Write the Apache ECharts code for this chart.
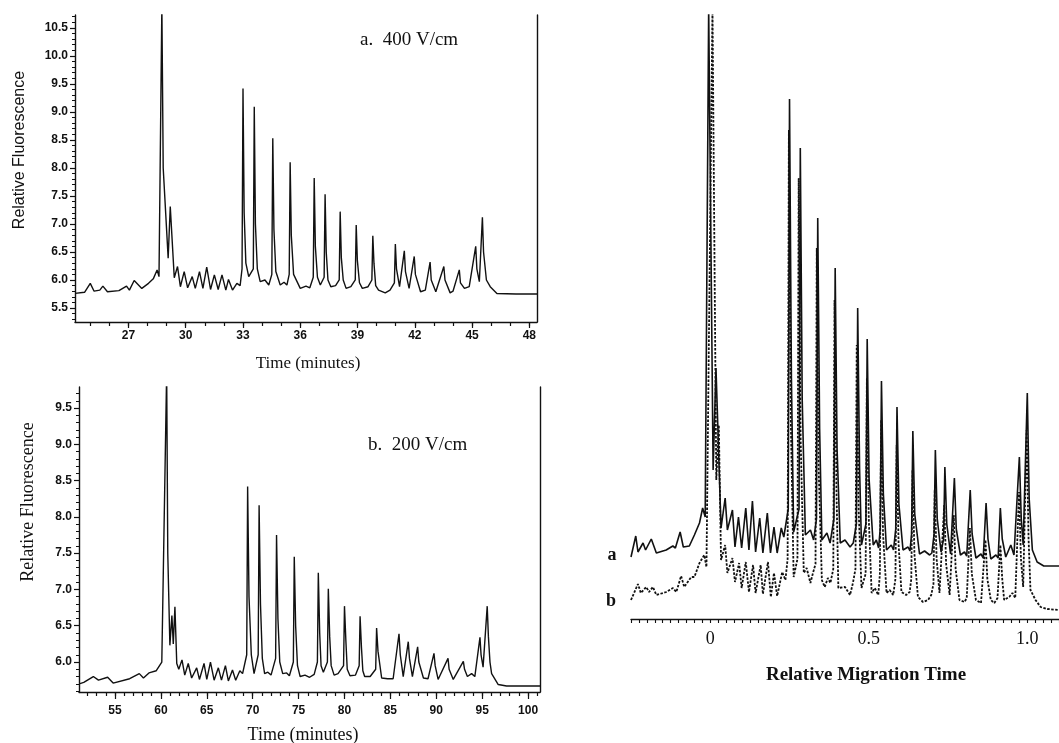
<!DOCTYPE html>
<html>
<head>
<meta charset="utf-8">
<script src="https://cdn.jsdelivr.net/npm/echarts@6.0.0/dist/echarts.min.js"></script>
<style>
  html, body { margin: 0; padding: 0; background: #fff; }
  #chart { width: 1059px; height: 743px; }
</style>
</head>
<body>
<div id="chart"></div>
<script>
// panel a: 400 V/cm, [time (min), relative fluorescence]
const panelA400 = [
  [24.2, 5.76], [24.7, 5.78], [25.0, 5.94], [25.2, 5.8], [25.5, 5.82], [25.66, 5.89], [25.9, 5.79],
  [26.5, 5.81], [26.9, 5.89], [27.05, 5.82], [27.3, 5.99], [27.7, 5.85], [28.05, 5.94], [28.3, 6.02],
  [28.5, 6.18], [28.6, 6.06], [28.75, 10.9], [28.82, 8.0], [29.08, 6.39], [29.19, 7.31], [29.4, 6.04],
  [29.57, 6.24], [29.72, 5.88], [29.92, 6.15], [30.1, 5.86], [30.34, 6.06], [30.5, 5.85], [30.72, 6.15],
  [30.9, 5.85], [31.1, 6.23], [31.3, 5.83], [31.5, 6.09], [31.7, 5.83], [31.9, 6.09], [32.1, 5.82],
  [32.24, 6.01], [32.45, 5.82], [32.68, 5.94], [32.85, 5.9], [32.95, 6.2], [33.0, 9.42], [33.06, 7.2],
  [33.15, 6.3], [33.3, 6.06], [33.54, 6.2], [33.59, 9.09], [33.65, 7.0], [33.75, 6.2], [33.9, 5.97],
  [34.15, 6.0], [34.35, 5.91], [34.51, 6.1], [34.56, 8.53], [34.62, 6.9], [34.72, 6.15], [34.95, 5.91],
  [35.15, 5.96], [35.3, 5.91], [35.42, 6.1], [35.47, 8.1], [35.53, 6.8], [35.65, 6.1], [36.0, 5.85],
  [36.3, 5.89], [36.5, 5.86], [36.68, 6.05], [36.73, 7.82], [36.79, 6.6], [36.9, 6.05], [37.05, 5.91],
  [37.25, 6.05], [37.3, 7.53], [37.36, 6.5], [37.45, 6.0], [37.6, 5.88], [37.85, 5.9], [38.04, 6.0],
  [38.09, 7.22], [38.15, 6.4], [38.25, 6.0], [38.4, 5.85], [38.65, 5.88], [38.88, 6.0], [38.93, 6.98],
  [38.99, 6.35], [39.1, 5.95], [39.25, 5.85], [39.55, 5.88], [39.75, 6.0], [39.8, 6.79], [39.86, 6.3],
  [39.95, 5.9], [40.1, 5.82], [40.45, 5.77], [40.7, 5.82], [40.93, 5.95], [40.98, 6.64], [41.04, 6.2],
  [41.2, 5.88], [41.45, 6.52], [41.51, 6.15], [41.7, 5.85], [41.97, 6.42], [42.03, 6.1], [42.3, 5.79],
  [42.55, 5.82], [42.8, 6.32], [42.86, 6.0], [43.1, 5.79], [43.52, 6.24], [43.58, 6.0], [43.85, 5.77],
  [44.0, 5.8], [44.33, 6.18], [44.39, 5.95], [44.6, 5.85], [44.85, 5.88], [45.19, 6.6], [45.25, 6.2],
  [45.38, 5.97], [45.54, 7.12], [45.6, 6.5], [45.75, 6.0], [45.95, 5.88], [46.3, 5.76], [47.3, 5.75],
  [48.4, 5.75]
];

// panel b: 200 V/cm
const panelB200 = [
  [51.1, 5.70], [51.6, 5.72], [52.64, 5.80], [53.2, 5.75], [54.2, 5.79], [54.8, 5.71], [56.6, 5.77],
  [57.65, 5.84], [58.1, 5.78], [58.7, 5.85], [59.5, 5.88], [60.1, 6.0], [60.3, 5.99], [60.63, 10.0],
  [60.75, 7.5], [60.98, 6.23], [61.2, 6.64], [61.35, 6.25], [61.53, 6.76], [61.73, 5.98], [61.95, 5.9],
  [62.3, 6.03], [62.6, 5.82], [62.98, 5.98], [63.35, 5.78], [63.9, 5.92], [64.2, 5.76], [64.7, 5.98],
  [65.0, 5.76], [65.4, 6.0], [65.8, 5.75], [66.26, 5.92], [66.6, 5.75], [67.03, 5.95], [67.35, 5.74],
  [67.8, 5.89], [68.15, 5.75], [68.6, 5.88], [68.9, 5.84], [69.35, 6.1], [69.45, 8.42], [69.6, 6.9],
  [69.85, 6.1], [70.15, 5.84], [70.6, 6.1], [70.7, 8.16], [70.85, 6.8], [71.05, 6.05], [71.3, 5.84],
  [71.65, 5.86], [72.0, 5.82], [72.5, 6.05], [72.6, 7.75], [72.75, 6.6], [72.95, 6.0], [73.27, 5.84],
  [73.7, 5.85], [74.0, 5.81], [74.43, 6.0], [74.53, 7.45], [74.68, 6.5], [74.88, 5.95], [75.17, 5.80],
  [75.7, 5.82], [76.2, 5.79], [76.7, 5.83], [77.05, 6.0], [77.15, 7.23], [77.3, 6.4], [77.45, 5.95],
  [77.7, 5.86], [78.14, 6.0], [78.24, 7.01], [78.39, 6.35], [78.55, 5.95], [78.87, 5.82], [79.3, 5.84],
  [79.9, 5.95], [80.0, 6.77], [80.15, 6.3], [80.3, 5.9], [80.6, 5.81], [81.2, 5.82], [81.6, 5.95],
  [81.7, 6.63], [81.85, 6.2], [82.0, 5.88], [82.2, 5.80], [82.8, 5.80], [83.4, 5.9], [83.5, 6.47],
  [83.65, 6.15], [84.05, 5.78], [84.7, 5.77], [85.3, 5.77], [85.94, 6.39], [86.08, 6.1], [86.4, 5.80],
  [86.95, 6.28], [87.08, 6.05], [87.4, 5.80], [87.97, 6.21], [88.1, 6.0], [88.6, 5.78], [89.1, 5.77],
  [89.75, 6.12], [89.88, 5.95], [90.2, 5.76], [91.28, 6.05], [91.4, 5.9], [91.85, 5.76], [92.95, 6.01],
  [93.08, 5.9], [93.39, 5.80], [93.85, 5.84], [94.2, 5.80], [94.76, 6.34], [94.88, 6.1], [95.1, 5.93],
  [95.55, 6.77], [95.68, 6.35], [95.85, 6.0], [96.03, 5.84], [96.75, 5.69], [97.66, 5.67], [100.2, 5.67],
  [101.3, 5.67]
];

// panel c: relative migration time, trace a (solid, offset up)
const overlayA = [
  [-0.25, 0.62], [-0.235, 0.83], [-0.228, 0.67], [-0.212, 0.76], [-0.204, 0.69], [-0.186, 0.80],
  [-0.17, 0.66], [-0.139, 0.69], [-0.118, 0.73], [-0.11, 0.71], [-0.095, 0.87], [-0.085, 0.72],
  [-0.066, 0.73], [-0.05, 0.84], [-0.034, 0.96], [-0.024, 1.11], [-0.016, 1.02], [-0.005, 6.1],
  [0.009, 1.49], [0.018, 2.51], [0.034, 0.91], [0.047, 1.21], [0.054, 0.89], [0.07, 1.09], [0.078, 0.72],
  [0.089, 1.02], [0.099, 0.71], [0.112, 1.11], [0.122, 0.69], [0.133, 1.18], [0.143, 0.67], [0.156, 1.01],
  [0.166, 0.66], [0.18, 1.06], [0.19, 0.66], [0.201, 0.92], [0.211, 0.66], [0.224, 0.91], [0.232, 0.82],
  [0.246, 1.1], [0.25, 5.20], [0.256, 2.4], [0.263, 0.87], [0.28, 1.1], [0.284, 4.71], [0.29, 2.2],
  [0.3, 0.84], [0.316, 0.89], [0.326, 0.79], [0.335, 1.0], [0.339, 4.01], [0.345, 1.9], [0.352, 0.79],
  [0.368, 0.86], [0.378, 0.76], [0.39, 1.0], [0.394, 3.51], [0.4, 1.7], [0.41, 0.76], [0.425, 0.79],
  [0.441, 0.72], [0.451, 0.76], [0.461, 0.95], [0.465, 3.11], [0.471, 1.5], [0.477, 0.74], [0.491, 0.95],
  [0.495, 2.80], [0.501, 1.4], [0.514, 0.74], [0.524, 0.79], [0.531, 0.71], [0.536, 0.9], [0.54, 2.38],
  [0.546, 1.25], [0.556, 0.69], [0.571, 0.74], [0.578, 0.69], [0.585, 0.9], [0.589, 2.12], [0.595, 1.15],
  [0.608, 0.69], [0.624, 0.72], [0.63, 0.68], [0.635, 0.85], [0.639, 1.88], [0.645, 1.05], [0.66, 0.65],
  [0.676, 0.68], [0.692, 0.64], [0.699, 0.66], [0.706, 0.85], [0.71, 1.69], [0.716, 1.0], [0.728, 0.67],
  [0.736, 0.8], [0.74, 1.52], [0.746, 0.95], [0.758, 0.65], [0.77, 1.41], [0.776, 0.9], [0.789, 0.64],
  [0.802, 0.67], [0.809, 0.63], [0.82, 1.29], [0.826, 0.85], [0.838, 0.61], [0.854, 0.65], [0.861, 0.61],
  [0.87, 1.16], [0.876, 0.8], [0.885, 0.60], [0.901, 0.64], [0.908, 0.61], [0.915, 1.11], [0.921, 0.8],
  [0.932, 0.62], [0.948, 0.74], [0.958, 0.64], [0.975, 1.62], [0.981, 1.0], [0.987, 0.74], [1.0, 2.26],
  [1.006, 1.2], [1.016, 0.69], [1.031, 0.57], [1.052, 0.53], [1.1, 0.53]
];

// panel c: trace b (dotted, offset down)
const overlayB = [
  [-0.25, 0.19], [-0.228, 0.35], [-0.219, 0.26], [-0.202, 0.32], [-0.193, 0.27], [-0.181, 0.32],
  [-0.17, 0.24], [-0.139, 0.27], [-0.118, 0.31], [-0.107, 0.27], [-0.092, 0.43], [-0.082, 0.32],
  [-0.06, 0.42], [-0.05, 0.42], [-0.034, 0.56], [-0.019, 0.64], [-0.012, 0.52], [0.007, 6.1],
  [0.019, 1.39], [0.027, 1.94], [0.034, 0.59], [0.047, 0.74], [0.054, 0.46], [0.07, 0.61], [0.078, 0.37],
  [0.091, 0.56], [0.099, 0.31], [0.112, 0.57], [0.122, 0.27], [0.135, 0.54], [0.143, 0.26], [0.159, 0.54],
  [0.166, 0.25], [0.182, 0.57], [0.191, 0.22], [0.201, 0.46], [0.211, 0.23], [0.227, 0.47], [0.237, 0.39],
  [0.244, 0.6], [0.248, 4.89], [0.254, 2.0], [0.263, 0.42], [0.275, 0.6], [0.279, 4.41], [0.285, 1.8],
  [0.295, 0.46], [0.304, 0.51], [0.316, 0.36], [0.324, 0.46], [0.332, 0.55], [0.336, 3.71], [0.342, 1.5],
  [0.352, 0.39], [0.361, 0.32], [0.371, 0.41], [0.379, 0.36], [0.388, 0.5], [0.392, 3.19], [0.398, 1.3],
  [0.404, 0.31], [0.425, 0.32], [0.441, 0.24], [0.45, 0.36], [0.458, 0.5], [0.462, 2.74], [0.468, 1.1],
  [0.477, 0.31], [0.49, 0.45], [0.494, 2.41], [0.5, 1.0], [0.509, 0.26], [0.519, 0.31], [0.53, 0.24],
  [0.535, 0.45], [0.539, 1.99], [0.545, 0.85], [0.556, 0.26], [0.566, 0.29], [0.577, 0.24], [0.584, 0.4],
  [0.588, 1.74], [0.594, 0.75], [0.603, 0.27], [0.618, 0.24], [0.629, 0.27], [0.634, 0.4], [0.638, 1.49],
  [0.644, 0.65], [0.655, 0.22], [0.671, 0.17], [0.687, 0.19], [0.697, 0.24], [0.704, 0.35], [0.708, 1.29],
  [0.714, 0.6], [0.723, 0.26], [0.738, 1.14], [0.744, 0.55], [0.755, 0.24], [0.768, 1.04], [0.774, 0.5],
  [0.786, 0.19], [0.802, 0.17], [0.809, 0.21], [0.819, 0.91], [0.825, 0.45], [0.838, 0.19], [0.854, 0.16],
  [0.868, 0.79], [0.874, 0.4], [0.885, 0.19], [0.896, 0.16], [0.906, 0.21], [0.915, 0.74], [0.921, 0.4],
  [0.927, 0.19], [0.943, 0.22], [0.953, 0.26], [0.962, 0.21], [0.974, 1.27], [0.98, 0.6], [0.987, 0.32],
  [0.998, 1.89], [1.004, 0.8], [1.01, 0.29], [1.026, 0.19], [1.042, 0.12], [1.063, 0.10], [1.1, 0.09]
];

// tick labels
const panelAYLabels = [5.5, 6.0, 6.5, 7.0, 7.5, 8.0, 8.5, 9.0, 9.5, 10.0, 10.5];
const panelAXLabels = [27, 30, 33, 36, 39, 42, 45, 48];
const panelBYLabels = [6.0, 6.5, 7.0, 7.5, 8.0, 8.5, 9.0, 9.5];
const panelBXLabels = [55, 60, 65, 70, 75, 80, 85, 90, 95, 100];
const panelCXLabels = [0, 0.5, 1.0];

function steps(from, to, step) {
  const out = [];
  for (let v = from; v <= to + 1e-9; v += step) out.push(Math.round(v * 1000) / 1000);
  return out;
}

const sans = '"Liberation Sans", Arial, sans-serif';
const serif = '"Liberation Serif", "Times New Roman", serif';
const black = '#111';

const tickLabel = { color: black, fontFamily: sans, fontWeight: 'bold', fontSize: 12 };

const chart = echarts.init(document.getElementById('chart'), null, { renderer: 'canvas' });

const option = {
  animation: false,
  backgroundColor: '#fff',
  grid: [
    { left: 75, top: 15, width: 462, height: 307 },
    { left: 79, top: 387, width: 461, height: 305 },
    { left: 631, top: 15, width: 431, height: 604 }
  ],
  xAxis: [
    { // 0 panel a main
      gridIndex: 0, type: 'value', position: 'bottom', min: 24.2, max: 48.4,
      axisLine: { lineStyle: { color: black, width: 1.4 } },
      axisTick: { customValues: panelAXLabels, length: 6, lineStyle: { color: black, width: 1.2 } },
      axisLabel: { customValues: panelAXLabels, margin: 8, ...tickLabel, formatter: v => String(v) },
      splitLine: { show: false }
    },
    { // 1 panel a minor ticks
      gridIndex: 0, type: 'value', position: 'bottom', min: 24.2, max: 48.4,
      axisLine: { show: false },
      axisTick: { customValues: steps(25, 48, 1), length: 4, lineStyle: { color: black, width: 1.2 } },
      axisLabel: { show: false }, splitLine: { show: false }
    },
    { // 2 panel b main
      gridIndex: 1, type: 'value', position: 'bottom', min: 51.08, max: 101.3,
      axisLine: { lineStyle: { color: black, width: 1.4 } },
      axisTick: { customValues: panelBXLabels, length: 7, lineStyle: { color: black, width: 1.2 } },
      axisLabel: { customValues: panelBXLabels, margin: 13, ...tickLabel, formatter: v => String(v) },
      splitLine: { show: false }
    },
    { // 3 panel b minor ticks
      gridIndex: 1, type: 'value', position: 'bottom', min: 51.08, max: 101.3,
      axisLine: { show: false },
      axisTick: { customValues: steps(52, 101, 1), length: 4, lineStyle: { color: black, width: 1.2 } },
      axisLabel: { show: false }, splitLine: { show: false }
    },
    { // 4 panel c
      gridIndex: 2, type: 'value', position: 'bottom', min: -0.25, max: 1.1, interval: 0.025,
      axisLine: { lineStyle: { color: black, width: 1.4 } },
      axisTick: { length: 4, lineStyle: { color: black, width: 1.1 } },
      axisLabel: {
        customValues: panelCXLabels, margin: 11, color: black, fontFamily: serif, fontSize: 18,
        formatter: v => (Math.abs(v) < 1e-6 ? '0' : v.toFixed(1))
      },
      splitLine: { show: false }
    }
  ],
  yAxis: [
    { // 0 panel a main
      gridIndex: 0, type: 'value', position: 'left', min: 5.25, max: 10.73,
      axisLine: { show: true, lineStyle: { color: black, width: 1.4 } },
      axisTick: { customValues: panelAYLabels, length: 5, lineStyle: { color: black, width: 1.2 } },
      axisLabel: { customValues: panelAYLabels, margin: 7, ...tickLabel, formatter: v => v.toFixed(1) },
      splitLine: { show: false }
    },
    { // 1 panel a minor
      gridIndex: 0, type: 'value', position: 'left', min: 5.25, max: 10.73,
      axisLine: { show: false },
      axisTick: { customValues: steps(5.3, 10.7, 0.1), length: 3, lineStyle: { color: black, width: 1 } },
      axisLabel: { show: false }, splitLine: { show: false }
    },
    { // 2 panel a right frame
      gridIndex: 0, type: 'value', position: 'right', min: 5.25, max: 10.73,
      axisLine: { show: true, lineStyle: { color: black, width: 1.4 } },
      axisTick: { show: false }, axisLabel: { show: false }, splitLine: { show: false }
    },
    { // 3 panel b main
      gridIndex: 1, type: 'value', position: 'left', min: 5.587, max: 9.79,
      axisLine: { show: true, lineStyle: { color: black, width: 1.4 } },
      axisTick: { customValues: panelBYLabels, length: 5, lineStyle: { color: black, width: 1.2 } },
      axisLabel: { customValues: panelBYLabels, margin: 7, ...tickLabel, formatter: v => v.toFixed(1) },
      splitLine: { show: false }
    },
    { // 4 panel b minor
      gridIndex: 1, type: 'value', position: 'left', min: 5.587, max: 9.79,
      axisLine: { show: false },
      axisTick: { customValues: steps(5.6, 9.7, 0.1), length: 3, lineStyle: { color: black, width: 1 } },
      axisLabel: { show: false }, splitLine: { show: false }
    },
    { // 5 panel b right frame
      gridIndex: 1, type: 'value', position: 'right', min: 5.587, max: 9.79,
      axisLine: { show: true, lineStyle: { color: black, width: 1.4 } },
      axisTick: { show: false }, axisLabel: { show: false }, splitLine: { show: false }
    },
    { // 6 panel c (hidden)
      gridIndex: 2, type: 'value', min: 0, max: 6.04, show: false
    }
  ],
  series: [
    {
      type: 'line', xAxisIndex: 0, yAxisIndex: 0, data: panelA400, showSymbol: false, symbol: 'none',
      clip: true, lineStyle: { color: black, width: 1.4 }
    },
    {
      type: 'line', xAxisIndex: 2, yAxisIndex: 3, data: panelB200, showSymbol: false, symbol: 'none',
      clip: true, lineStyle: { color: black, width: 1.4 }
    },
    {
      type: 'line', xAxisIndex: 4, yAxisIndex: 6, data: overlayB, showSymbol: false, symbol: 'none',
      clip: true, lineStyle: { color: black, width: 1.8, type: [2.5, 1.5] }
    },
    {
      type: 'line', xAxisIndex: 4, yAxisIndex: 6, data: overlayA, showSymbol: false, symbol: 'none',
      clip: true, lineStyle: { color: black, width: 1.6 }
    }
  ],
  graphic: [
    { type: 'text', x: 360, y: 40, style: { text: 'a.  400 V/cm', fill: black, font: '19px ' + serif, align: 'left', verticalAlign: 'middle' } },
    { type: 'text', x: 368, y: 445, style: { text: 'b.  200 V/cm', fill: black, font: '19px ' + serif, align: 'left', verticalAlign: 'middle' } },
    { type: 'text', x: 308, y: 364, style: { text: 'Time (minutes)', fill: black, font: '17px ' + serif, align: 'center', verticalAlign: 'middle' } },
    { type: 'text', x: 303, y: 735, style: { text: 'Time (minutes)', fill: black, font: '18px ' + serif, align: 'center', verticalAlign: 'middle' } },
    { type: 'text', x: 20, y: 150, rotation: Math.PI / 2, style: { text: 'Relative Fluorescence', fill: black, font: '16px ' + sans, align: 'center', verticalAlign: 'middle' } },
    { type: 'text', x: 28, y: 502, rotation: Math.PI / 2, style: { text: 'Relative Fluorescence', fill: black, font: '18px ' + serif, align: 'center', verticalAlign: 'middle' } },
    { type: 'text', x: 866, y: 675, style: { text: 'Relative Migration Time', fill: black, font: 'bold 19px ' + serif, align: 'center', verticalAlign: 'middle' } },
    { type: 'text', x: 612, y: 555, style: { text: 'a', fill: black, font: 'bold 18px ' + serif, align: 'center', verticalAlign: 'middle' } },
    { type: 'text', x: 611, y: 601, style: { text: 'b', fill: black, font: 'bold 18px ' + serif, align: 'center', verticalAlign: 'middle' } }
  ]
};

chart.setOption(option);
</script>
</body>
</html>
